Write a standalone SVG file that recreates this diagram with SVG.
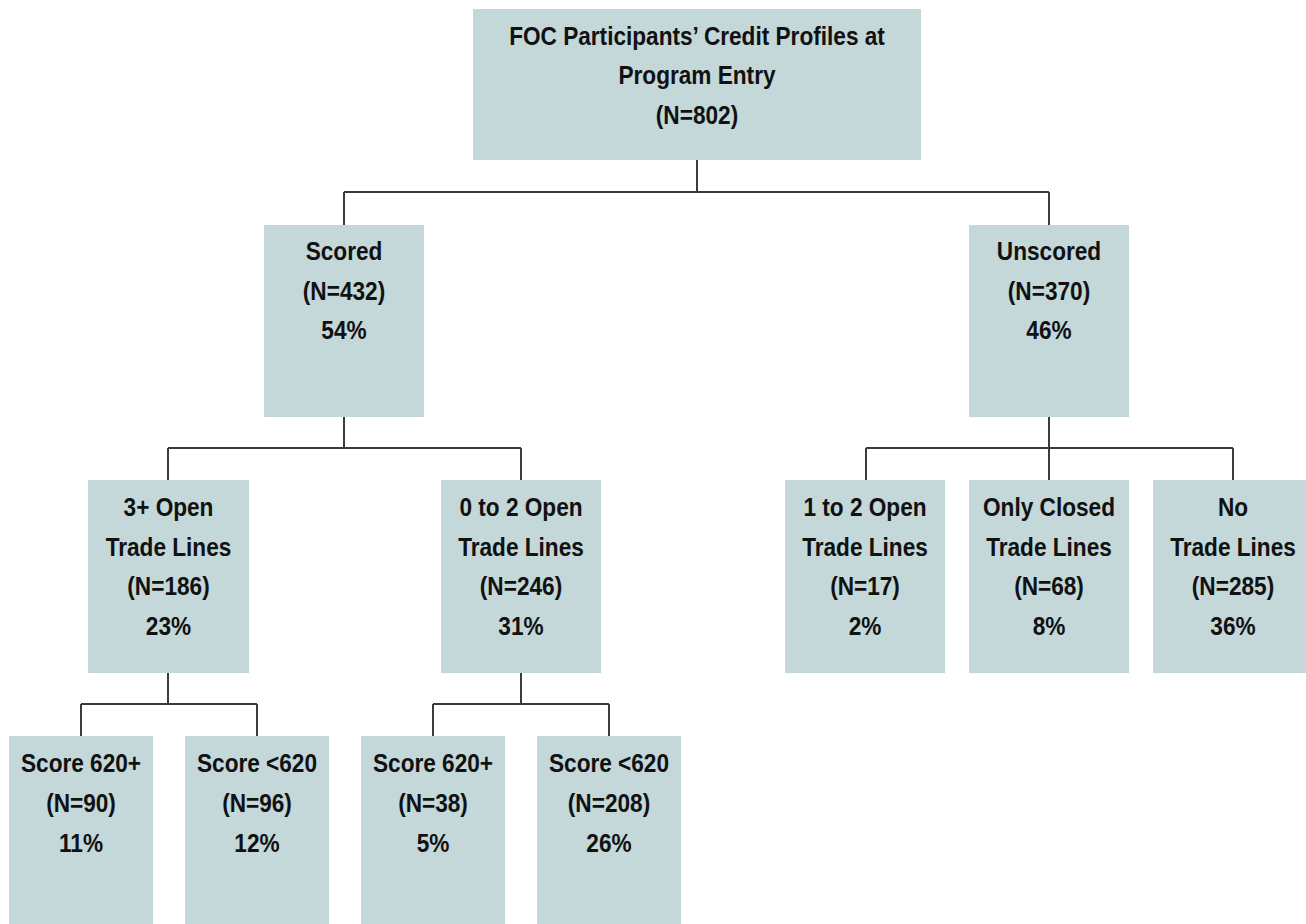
<svg xmlns="http://www.w3.org/2000/svg" width="1306" height="924" viewBox="0 0 1306 924">
<style>
.box{fill:#c4d7d9;}
.t{font-family:"Liberation Sans Narrow","Arial Narrow","Liberation Sans",Arial,sans-serif;font-weight:bold;font-size:26px;fill:#111;text-anchor:middle;}
.c{stroke:#3c3c3c;stroke-width:2;fill:none;}
</style>
<rect width="1306" height="924" fill="#ffffff"/>
<g id="connectors">
<path class="c" d="M697 160V192M344 192H1049M344 192V225M1049 192V225"/>
<path class="c" d="M344 417V448M168 448H521M168 448V480M521 448V480"/>
<path class="c" d="M1049 417V448M866 448H1233M866 448V480M1049 448V480M1233 448V480"/>
<path class="c" d="M168 673V704M81 704H257M81 704V736M257 704V736"/>
<path class="c" d="M521 673V704M433 704H609M433 704V736M609 704V736"/>
</g>
<g id="root">
<rect class="box" x="473" y="9" width="448" height="151"/>
<g transform="translate(697,0) scale(0.87,1)">
<text class="t" x="0" y="45">FOC Participants’ Credit Profiles at</text>
<text class="t" x="0" y="84">Program Entry</text>
<text class="t" x="0" y="124">(N=802)</text>
</g>
</g>
<g id="scored">
<rect class="box" x="264" y="225" width="160" height="192"/>
<g transform="translate(344,0) scale(0.87,1)">
<text class="t" x="0" y="260">Scored</text>
<text class="t" x="0" y="300">(N=432)</text>
<text class="t" x="0" y="339">54%</text>
</g>
</g>
<g id="unscored">
<rect class="box" x="969" y="225" width="160" height="192"/>
<g transform="translate(1049,0) scale(0.87,1)">
<text class="t" x="0" y="260">Unscored</text>
<text class="t" x="0" y="300">(N=370)</text>
<text class="t" x="0" y="339">46%</text>
</g>
</g>
<g id="open3plus">
<rect class="box" x="88" y="480" width="161" height="193"/>
<g transform="translate(168.5,0) scale(0.87,1)">
<text class="t" x="0" y="516">3+ Open</text>
<text class="t" x="0" y="556">Trade Lines</text>
<text class="t" x="0" y="595">(N=186)</text>
<text class="t" x="0" y="635">23%</text>
</g>
</g>
<g id="open0to2">
<rect class="box" x="441" y="480" width="160" height="193"/>
<g transform="translate(521,0) scale(0.87,1)">
<text class="t" x="0" y="516">0 to 2 Open</text>
<text class="t" x="0" y="556">Trade Lines</text>
<text class="t" x="0" y="595">(N=246)</text>
<text class="t" x="0" y="635">31%</text>
</g>
</g>
<g id="open1to2">
<rect class="box" x="785" y="480" width="160" height="193"/>
<g transform="translate(865,0) scale(0.87,1)">
<text class="t" x="0" y="516">1 to 2 Open</text>
<text class="t" x="0" y="556">Trade Lines</text>
<text class="t" x="0" y="595">(N=17)</text>
<text class="t" x="0" y="635">2%</text>
</g>
</g>
<g id="onlyclosed">
<rect class="box" x="969" y="480" width="160" height="193"/>
<g transform="translate(1049,0) scale(0.87,1)">
<text class="t" x="0" y="516">Only Closed</text>
<text class="t" x="0" y="556">Trade Lines</text>
<text class="t" x="0" y="595">(N=68)</text>
<text class="t" x="0" y="635">8%</text>
</g>
</g>
<g id="notradelines">
<rect class="box" x="1153" y="480" width="160" height="193"/>
<g transform="translate(1233,0) scale(0.87,1)">
<text class="t" x="0" y="516">No</text>
<text class="t" x="0" y="556">Trade Lines</text>
<text class="t" x="0" y="595">(N=285)</text>
<text class="t" x="0" y="635">36%</text>
</g>
</g>
<g id="a620plus">
<rect class="box" x="9" y="736" width="144" height="188"/>
<g transform="translate(81,0) scale(0.87,1)">
<text class="t" x="0" y="772">Score 620+</text>
<text class="t" x="0" y="812">(N=90)</text>
<text class="t" x="0" y="852">11%</text>
</g>
</g>
<g id="a620minus">
<rect class="box" x="185" y="736" width="144" height="188"/>
<g transform="translate(257,0) scale(0.87,1)">
<text class="t" x="0" y="772">Score &lt;620</text>
<text class="t" x="0" y="812">(N=96)</text>
<text class="t" x="0" y="852">12%</text>
</g>
</g>
<g id="b620plus">
<rect class="box" x="361" y="736" width="144" height="188"/>
<g transform="translate(433,0) scale(0.87,1)">
<text class="t" x="0" y="772">Score 620+</text>
<text class="t" x="0" y="812">(N=38)</text>
<text class="t" x="0" y="852">5%</text>
</g>
</g>
<g id="b620minus">
<rect class="box" x="537" y="736" width="144" height="188"/>
<g transform="translate(609,0) scale(0.87,1)">
<text class="t" x="0" y="772">Score &lt;620</text>
<text class="t" x="0" y="812">(N=208)</text>
<text class="t" x="0" y="852">26%</text>
</g>
</g>
</svg>
